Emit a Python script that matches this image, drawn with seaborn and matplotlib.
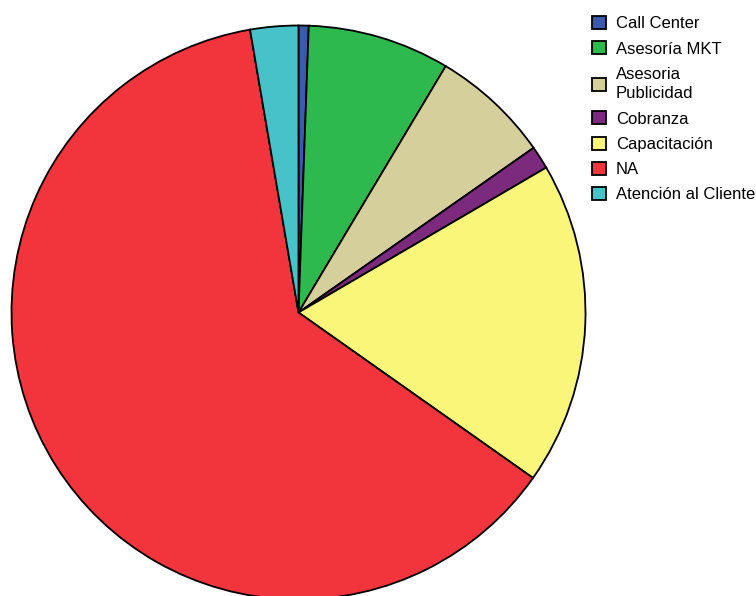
import matplotlib
matplotlib.use("Agg")
import matplotlib.pyplot as plt
import seaborn as sns
from matplotlib.patches import Patch

# Share of cases per area (percent)
areas = ["Call Center", "Asesoría MKT", "Asesoria\nPublicidad", "Cobranza",
         "Capacitación", "NA", "Atención al Cliente"]
shares = [0.57, 8.0, 6.7, 1.3, 18.2, 62.5, 2.7]
colors = ["#3b5aad", "#2db94d", "#d5cf9b", "#7b2a7d", "#f9f67a", "#f2343c", "#47c2c9"]

sns.set_theme(style="white")
plt.rcParams["font.family"] = ["Liberation Sans", "DejaVu Sans"]
plt.rcParams["text.color"] = "black"
palette = sns.color_palette(colors)

W, H = 756, 596
fig = plt.figure(figsize=(W / 100, H / 100), dpi=100)
fig.patch.set_facecolor("white")

cx, cy, r = 298.5, 312.5, 287
ax = fig.add_axes([(cx - r) / W, (H - cy - r) / H, 2 * r / W, 2 * r / H])
ax.axis("off")

ax.pie(shares, colors=palette, startangle=90, counterclock=False, radius=1,
       wedgeprops=dict(edgecolor="black", linewidth=1.3))
ax.set_xlim(-1, 1)
ax.set_ylim(-1, 1)
ax.set_aspect("equal")

handles = [Patch(facecolor=c, edgecolor="black", linewidth=1.3) for c in palette]
leg = fig.legend(handles, areas, loc="upper left",
                 bbox_to_anchor=(592 / W, 1 - 16 / H), frameon=False,
                 fontsize=12, handlelength=0.82, handleheight=0.82,
                 handletextpad=0.62, labelspacing=0.6, borderpad=0, borderaxespad=0)
for t in leg.get_texts():
    t.set_color("black")
    t.set_linespacing(1.4)

fig.savefig("out.png", dpi=100, facecolor="white")
